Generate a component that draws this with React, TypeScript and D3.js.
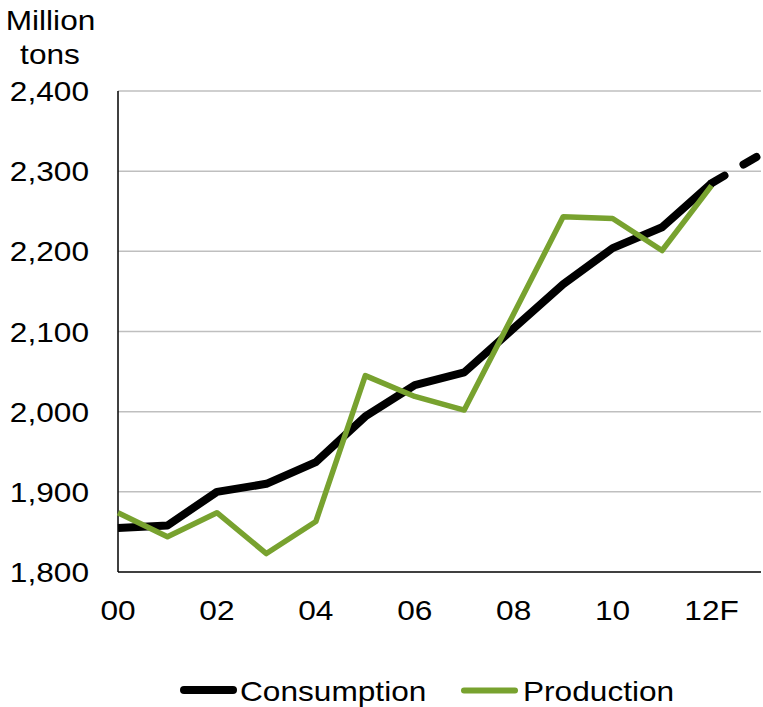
import React from "react";
import * as d3 from "d3";

const years = [0, 1, 2, 3, 4, 5, 6, 7, 8, 9, 10, 11, 12, 13];
const consumption = [1855, 1858, 1900, 1910, 1937, 1994, 2033, 2049, 2104, 2159, 2204, 2230, 2285, 2321];
const production = [1874, 1844, 1874, 1823, 1863, 2045, 2019, 2002, 2122, 2243, 2241, 2201, 2282];
const yTicks = [1800, 1900, 2000, 2100, 2200, 2300, 2400];
const xTickYears = [0, 2, 4, 6, 8, 10, 12];
const xTickLabels = ["00", "02", "04", "06", "08", "10", "12F"];
const legendItems = ["Consumption", "Production"];

const W = 763;
const H = 707;
const FONT = "'Liberation Sans', Arial, sans-serif";
const FS = 28;
const SX = 1.13;
const GREEN = "#78A22F";

export default function App() {
  const x = d3.scaleLinear().domain([0, 13]).range([118, 761]);
  const y = d3.scaleLinear().domain([1800, 2400]).range([572, 91]);

  const line = d3
    .line<[number, number]>()
    .x((d) => x(d[0]))
    .y((d) => y(d[1]));

  const consPts: [number, number][] = years.map((yr, i) => [yr, consumption[i]]);
  const consSolid = consPts.slice(0, 13);
  const consDash = consPts.slice(12);
  const prodPts: [number, number][] = production.map((v, i) => [years[i], v]);

  const T = (props: { x: number; y: number; anchor?: string; children: React.ReactNode }) => (
    <text
      transform={`translate(${props.x},${props.y}) scale(${SX},1)`}
      textAnchor={props.anchor || "start"}
      fontFamily={FONT}
      fontSize={FS}
      fill="#000"
    >
      {props.children}
    </text>
  );

  return (
    <div style={{ position: "absolute", left: 0, top: 0 }}>
      <svg width={W} height={H} style={{ display: "block", background: "#fff" }}>
        {yTicks.slice(1).map((t) => (
          <line key={t} x1={x(0)} x2={x(13)} y1={y(t)} y2={y(t)} stroke="#BFBFBF" strokeWidth={1.5} />
        ))}
        <line x1={x(0)} x2={x(0)} y1={y(2400)} y2={y(1800)} stroke="#000" strokeWidth={1.5} />
        <line x1={x(0)} x2={x(13)} y1={y(1800)} y2={y(1800)} stroke="#000" strokeWidth={1.5} />

        {yTicks.map((t) => (
          <T key={t} x={89} y={y(t) + 10} anchor="end">
            {d3.format(",")(t)}
          </T>
        ))}
        <T x={50.5} y={29.5} anchor="middle">Million</T>
        <T x={50} y={64} anchor="middle">tons</T>

        {xTickYears.map((yr, i) => (
          <T key={yr} x={x(yr)} y={620} anchor="middle">
            {xTickLabels[i]}
          </T>
        ))}

        <path d={line(consSolid) || ""} fill="none" stroke="#000" strokeWidth={8} strokeLinejoin="round" />
        <path
          d={line(consDash) || ""}
          fill="none"
          stroke="#000"
          strokeWidth={8}
          strokeLinecap="round"
          strokeDasharray="15 22"
        />
        <path d={line(prodPts) || ""} fill="none" stroke={GREEN} strokeWidth={5.5} strokeLinejoin="round" />

        <line x1={184} x2={233} y1={690} y2={690} stroke="#000" strokeWidth={8} strokeLinecap="round" />
        <T x={240} y={701}>{legendItems[0]}</T>
        <line x1={464} x2={515} y1={690.5} y2={690.5} stroke={GREEN} strokeWidth={6} strokeLinecap="round" />
        <T x={523} y={701}>{legendItems[1]}</T>
      </svg>
    </div>
  );
}
